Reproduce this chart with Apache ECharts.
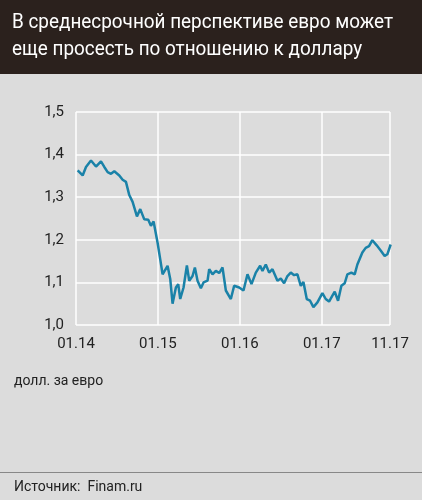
<!DOCTYPE html>
<html><head><meta charset="utf-8">
<script src="https://cdn.jsdelivr.net/npm/echarts@6/dist/echarts.min.js"></script>
<style>html,body{margin:0;padding:0;background:#dcdcdc}#c{width:422px;height:500px}</style>
</head><body><div id="c"></div>
<script>
const titleLines = ['В среднесрочной перспективе евро может', 'еще просесть по отношению к доллару'];
const xTickPos = [0, 12, 24, 36, 46];
const xTickLabels = ['01.14', '01.15', '01.16', '01.17', '11.17'];
const zx = [50,55,65,75,90,105,120,130,140,150,160,175,185,195,205,215,228,238,250,262,270,278,290,298,305,320,328,335,345,352,358,368,378,385,395,402,410,420,428,440,445,455,465,475,485,495,510,520,535,548,560,572,585,598,605,615,625,635,650,660,670,680,690,700,710,720,728,738,748,758,770,785,795,805,815,822,832,842,852,860,872,882,890,905,915,925,935,948,960,972,980,990];
const rate = [1.363,1.359,1.351,1.371,1.386,1.372,1.384,1.371,1.359,1.355,1.361,1.351,1.341,1.336,1.305,1.289,1.255,1.272,1.248,1.247,1.233,1.243,1.193,1.154,1.119,1.139,1.108,1.050,1.088,1.096,1.061,1.088,1.140,1.104,1.115,1.135,1.104,1.086,1.100,1.104,1.131,1.119,1.127,1.122,1.135,1.081,1.061,1.092,1.088,1.081,1.119,1.096,1.123,1.139,1.127,1.142,1.123,1.131,1.104,1.109,1.098,1.115,1.123,1.117,1.119,1.092,1.101,1.061,1.057,1.042,1.053,1.075,1.061,1.055,1.069,1.078,1.057,1.092,1.098,1.119,1.123,1.119,1.142,1.170,1.181,1.185,1.199,1.187,1.175,1.162,1.166,1.189];
const months = zx.map(v => (v - 45) / 20.5);
const data = months.map((m, i) => [m, rate[i]]);
const font = 'Roboto';
const chart = echarts.init(document.getElementById('c'));
chart.setOption({
  backgroundColor: '#dcdcdc',
  animation: false,
  graphic: [
    {type:'rect', shape:{x:0,y:0,width:422,height:74}, style:{fill:'#2b211d'}},
    {type:'text', x:12, y:9, scaleX:0.9, style:{text:titleLines.join('\n'), fill:'#fff', font:'21px Roboto, sans-serif', lineHeight:27}},
    {type:'text', left:14, top:374, style:{text:'долл. за евро', fill:'#222', font:'14px Roboto, sans-serif'}},
    {type:'rect', shape:{x:0,y:472,width:422,height:1}, style:{fill:'#888'}},
    {type:'text', left:14, top:480, style:{text:'Источник:  Finam.ru', fill:'#222', font:'14px Roboto, sans-serif'}}
  ],
  grid: {left:76, right:32, top:112, bottom:175},
  xAxis: {type:'value', min:0, max:46,
    axisLine:{show:false}, axisTick:{show:false},
    splitLine:{show:false},
    axisLabel:{show:true, color:'#222', fontSize:15, fontFamily:font, margin:12,
      customValues: xTickPos,
      formatter:v => { const k = xTickPos.indexOf(v); return k>=0 ? xTickLabels[k] : ''; }}
  },
  yAxis: {type:'value', min:1.0, max:1.5, interval:0.1,
    axisLine:{show:false}, axisTick:{show:false},
    splitLine:{lineStyle:{color:'#fff', width:1.5}},
    axisLabel:{color:'#222', fontSize:15, fontFamily:font, margin:12,
      formatter:v => v.toFixed(1).replace('.', ',')}
  },
  series: [{type:'line', data:data, showSymbol:false, lineStyle:{color:'#1a82a8', width:2.5},
    markLine:{silent:true, symbol:'none', label:{show:false}, z:1,
      lineStyle:{color:'#fff', width:1.5, type:'solid'},
      data: xTickPos.map(v => ({xAxis:v}))}}]
});
</script></body></html>
